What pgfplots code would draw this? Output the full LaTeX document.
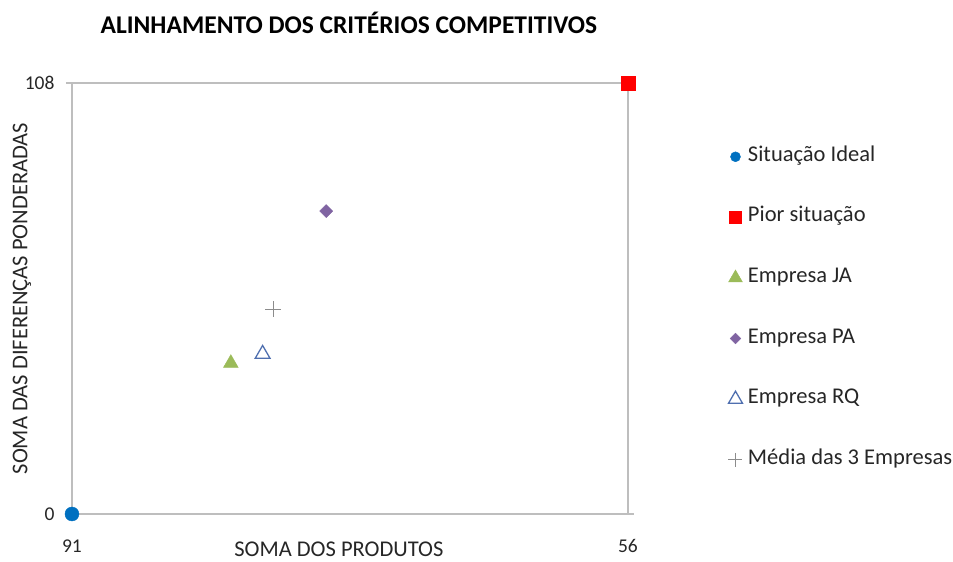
\documentclass[border=0pt]{standalone}
\usepackage{pgfplots}
\pgfplotsset{compat=1.18}
\usepackage{fontspec}
\setmainfont{Carlito}
\definecolor{cIdeal}{HTML}{0070C0}
\definecolor{cPior}{HTML}{FF0000}
\definecolor{cJA}{HTML}{9BBB59}
\definecolor{cPA}{HTML}{8064A2}
\definecolor{cRQ}{HTML}{4F6FAF}
\definecolor{cMed}{HTML}{8C8C8C}
\definecolor{axisgray}{HTML}{BEBEBE}
\definecolor{txt}{HTML}{262626}
\begin{document}
\begin{tikzpicture}
\path[use as bounding box] (0,0) rectangle (953pt,562pt);
\begin{axis}[
  at={(72pt,48pt)}, anchor=south west,
  scale only axis, width=556pt, height=431pt,
  x dir=reverse,
  xmin=56, xmax=91, ymin=0, ymax=108,
  xtick={56,91}, ytick={0,108},
  clip=false,
  axis line style={axisgray, line width=1.5pt},
  tick style={axisgray, line width=1.5pt},
  tick align=outside, major tick length=6pt,
  xtick style={draw=none},
  /pgf/number format/assume math mode=true,
  ticklabel style={font=\fontsize{19.5}{21}\selectfont, text=txt},
  xticklabel style={yshift=-16pt},
  yticklabel style={xshift=-8pt},
  title={\fontsize{25.5}{27}\selectfont\bfseries ALINHAMENTO DOS CRITÉRIOS COMPETITIVOS},
  title style={at={(axis description cs:0.498,1.125)}, anchor=center, text=black},
  xlabel={SOMA DOS PRODUTOS},
  xlabel style={at={(axis description cs:0.48,0)}, anchor=north, yshift=-28pt, inner sep=0pt, font=\fontsize{22.5}{24}\selectfont, text=txt},
  ylabel={SOMA DAS DIFERENÇAS PONDERADAS},
  ylabel style={at={(axis description cs:-0.0899,0.5)}, anchor=center, rotate=0, font=\fontsize{22.5}{24}\selectfont, text=txt},
  legend style={at={(axis description cs:1.175,0.856)}, anchor=north west, draw=none, fill=none,
    font=\fontsize{22.5}{24}\selectfont, text=txt, row sep=41.6pt,
    nodes={inner sep=1pt, text height=13pt, text depth=4pt},
    /tikz/every odd column/.append style={column sep=4.5pt}},
  legend cell align=left,
  legend image code/.code={\draw[mark repeat=2,mark phase=2,#1] plot coordinates {(0cm,0cm)(0.15cm,0cm)(0.3cm,0cm)};},
]
\addplot[only marks, mark=*, mark size=7pt, color=cIdeal, forget plot] coordinates {(91,0)};
\addlegendimage{only marks, mark=*, mark size=5pt, color=cIdeal}
\addlegendentry{Situação Ideal}
\addplot[only marks, mark=square*, mark size=7pt, color=cPior, forget plot] coordinates {(56,108)};
\addlegendimage{only marks, mark=square*, mark size=6pt, color=cPior}
\addlegendentry{Pior situação}
\addplot[only marks, mark=triangle*, mark size=8.5pt, color=cJA, forget plot] coordinates {(81,37.8)};
\addlegendimage{only marks, mark=triangle*, mark size=8pt, color=cJA}
\addlegendentry{Empresa JA}
\addplot[only marks, mark=square*, mark size=4.6pt, color=cPA, mark options={rotate=45}, forget plot] coordinates {(75,75.9)};
\addlegendimage{only marks, mark=square*, mark size=3.8pt, color=cPA, mark options={rotate=45}}
\addlegendentry{Empresa PA}
\addplot[only marks, mark=triangle, mark size=8.5pt, color=cRQ, mark options={line width=1.3pt}, forget plot] coordinates {(79,40.1)};
\addlegendimage{only marks, mark=triangle, mark size=8pt, color=cRQ, mark options={line width=1.3pt}}
\addlegendentry{Empresa RQ}
\addplot[only marks, mark=+, mark size=8pt, color=cMed, mark options={line width=1pt}, forget plot] coordinates {(78.33,51.3)};
\addlegendimage{only marks, mark=+, mark size=7pt, color=cMed, mark options={line width=1pt}}
\addlegendentry{Média das 3 Empresas}
\end{axis}
\end{tikzpicture}
\end{document}
